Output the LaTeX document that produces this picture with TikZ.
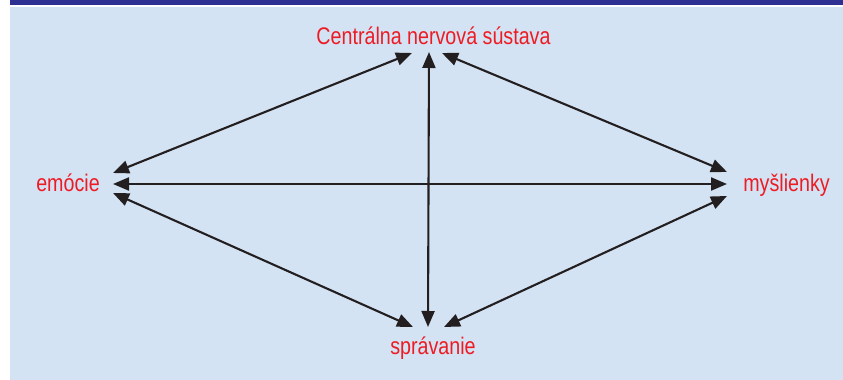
\documentclass[tikz,border=0pt]{standalone}
\usepackage{fontspec}
\usepackage{tikz}
\usetikzlibrary{arrows.meta}
\newfontfamily\lblfont[FakeStretch=0.82]{Liberation Sans}
\definecolor{barblue}{RGB}{46,49,146}
\definecolor{panelblue}{RGB}{212,227,243}
\definecolor{lblred}{RGB}{237,28,36}
\definecolor{arrowgray}{RGB}{35,31,32}

\begin{document}
\begin{tikzpicture}[
        x=1pt, y=1pt,
        lbl/.style={text=lblred, font=\lblfont\fontsize{24}{28}\selectfont, inner sep=0pt, anchor=base},
        arrow/.style={{Triangle[length=16pt, width=13pt]}-{Triangle[length=16pt, width=13pt]}, line width=2.1pt, draw=arrowgray}
    ]
        \fill[white] (0,0) rectangle (843,380);
        \fill[panelblue] (10,0) rectangle (843,373);
        \fill[barblue] (10,374.7) rectangle (843,380);

        \node[lbl] (cns) at (433.5,335) {Centrálna nervová sústava};
        \node[lbl] (emo) at (68,188) {emócie};
        \node[lbl] (mys) at (786.5,188) {myšlienky};
        \node[lbl] (spr) at (433,25) {správanie};

        \draw[arrow] ([shift={(-21.5,-8)}]cns.base) -- ([shift={(45,19)}]emo.base);
        \draw[arrow] ([shift={(8.5,-8)}]cns.base) -- ([shift={(-59.5,20)}]mys.base);
        \draw[arrow] ([shift={(-4.5,-7)}]cns.base) -- ([shift={(-5,28)}]spr.base);
        \draw[arrow] ([shift={(45,8)}]emo.base) -- ([shift={(-59.5,8)}]mys.base);
        \draw[arrow] ([shift={(45,-1)}]emo.base) -- ([shift={(-20,28)}]spr.base);
        \draw[arrow] ([shift={(-59.5,-4)}]mys.base) -- ([shift={(11,28)}]spr.base);
    \end{tikzpicture}
\end{document}
